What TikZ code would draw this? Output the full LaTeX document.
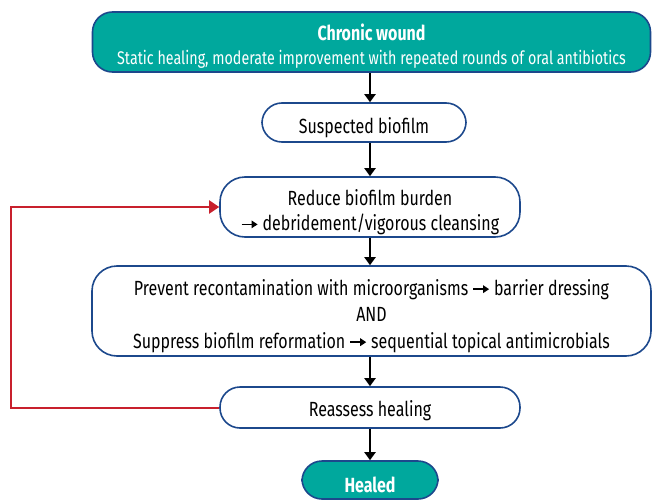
\documentclass[tikz,border=0pt]{standalone}
\usepackage{fontspec}
\setmainfont{Fira Sans}[FakeStretch=0.78]
\usetikzlibrary{arrows.meta}
\definecolor{wteal}{RGB}{0,168,157}
\definecolor{bblue}{RGB}{28,72,140}
\definecolor{rred}{RGB}{200,32,45}
\newcommand\tarr{\tikz[baseline=-0.3em]\draw[draw=black,line width=1.4pt,-{Triangle[length=6pt,width=7.5pt]}] (0pt,0pt)--(16pt,0pt);}
\begin{document}
\begin{tikzpicture}[x=1pt,y=-1pt,
  box/.style={draw=bblue, line width=1.6pt, rounded corners=20pt, inner sep=0pt},
  tealbox/.style={box, fill=wteal},
  txt/.style={align=center, inner sep=0pt, yshift=-5pt, font=\fontsize{20.5}{25.5}\selectfont},
  wtxt/.style={txt, text=white},
  arr/.style={line width=2pt, -{Triangle[length=8pt,width=11pt]}},
  loop/.style={draw=rred, line width=2pt, -{Triangle[length=10pt,width=13pt]}}]
\useasboundingbox (0,0) rectangle (652,500);
\node[tealbox, minimum width=558pt, minimum height=60pt,
  label={[wtxt, yshift=1pt]center:{{\bfseries\fontsize{20.5}{23}\selectfont Chronic wound}\\[-1pt]{\fontsize{18.3}{22}\selectfont Static healing, moderate improvement with repeated rounds of oral antibiotics}}}] (top) at (371.5,42) {};
\node[box, minimum width=204pt, minimum height=39pt,
  label={[txt]center:Suspected biofilm}] (susp) at (364,122.5) {};
\node[box, minimum width=300pt, minimum height=60pt, rounded corners=25pt,
  label={[txt]center:{Reduce biofilm burden\\ \tarr{} debridement/vigorous cleansing}}] (reduce) at (370,207) {};
\node[box, minimum width=559pt, minimum height=90pt, rounded corners=25pt,
  label={[txt, font=\fontsize{20.5}{26.5}\selectfont]center:{Prevent recontamination with microorganisms \tarr{} barrier dressing\\AND\\Suppress biofilm reformation \tarr{} sequential topical antimicrobials}}] (prevent) at (371.5,311) {};
\node[box, minimum width=300pt, minimum height=41pt,
  label={[txt, yshift=2pt]center:Reassess healing}] (reassess) at (370,407.5) {};
\node[tealbox, minimum width=136pt, minimum height=38pt,
  label={[wtxt, font=\bfseries\fontsize{20.5}{23}\selectfont]center:Healed}] (healed) at (370,480) {};
\coordinate (loopc) at (11,300);
\draw[arr] (top.south -| 370,0) -- (susp.north -| 370,0);
\draw[arr] (susp.south -| 370,0) -- (reduce.north -| 370,0);
\draw[arr] (reduce.south) -- (prevent.north -| 370,0);
\draw[arr] (prevent.south -| 370,0) -- (reassess.north);
\draw[arr] (reassess.south) -- (healed.north);
\draw[loop] (reassess.west) -| (loopc) |- (reduce.west);
\end{tikzpicture}
\end{document}
